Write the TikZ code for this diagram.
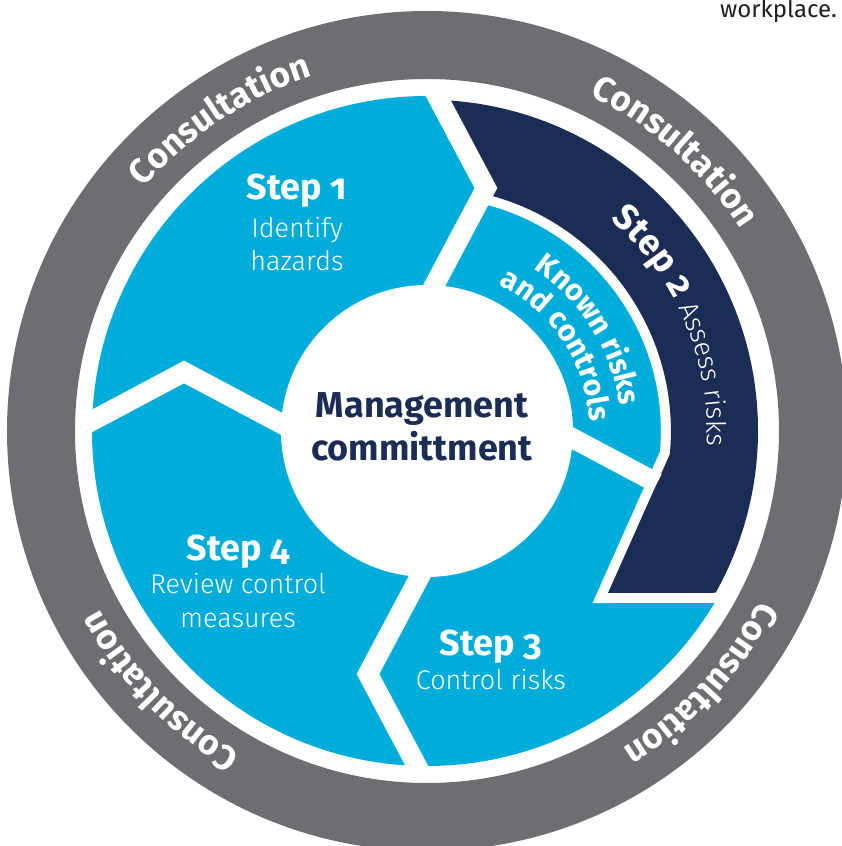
\documentclass[tikz,border=0pt]{standalone}
\usepackage{fontspec}
\setmainfont{Fira Sans}[Numbers=OldStyle]
\newfontfamily\descfont{Fira Sans Light}[Numbers=OldStyle]
\usetikzlibrary{decorations.text}
\definecolor{ringgrey}{RGB}{109,110,113}
\definecolor{stepblue}{RGB}{0,172,217}
\definecolor{navyblue}{RGB}{28,45,85}
\definecolor{inktext}{RGB}{35,31,32}
\tikzset{
  divider/.style={draw=white, line width=20pt, line join=miter},
  steptitle/.style={font=\bfseries\fontsize{36}{36}\selectfont, text=white, anchor=base, inner sep=0pt},
  stepdesc/.style={font=\descfont\fontsize{27}{27}\selectfont, text=white, anchor=base, inner sep=0pt},
  mgmt/.style={font=\bfseries\fontsize{36}{36}\selectfont, text=navyblue, anchor=base, inner sep=0pt},
  consult/.style={decorate, decoration={text along path, text align=center, text color=white,
      text={|\bfseries\fontsize{35}{35}\selectfont|Consultation}}},
}
\begin{document}
\begin{tikzpicture}[x=1pt,y=1pt]
\useasboundingbox (-427,-415) rectangle (414,431);
\fill[white] (-427,-415) rectangle (414,431);
% blue disk
\fill[stepblue] (0,0) circle[radius=335];
% navy band of step 2 with white halo
\path[fill=navyblue, preaction={draw=white, line width=20pt, line join=miter}]
  (59,243) -- (12.3,331) arc[start angle=87.87, end angle=-29.3, radius=331]
  -- (181,-162) -- (242.8,-23.3) arc[start angle=-5.48, end angle=76.35, radius=244] -- cycle;
% chevron dividers
\foreach \ang in {0,90,-90}
  \draw[divider, rotate=\ang] (-108.6,-12.4) -- (-243,59) -- (-363,-4.75);
\draw[divider] (108.6,12.4) -- (230,-52.1);
% centre circle
\fill[white] (0,0) circle[radius=146];
% outer grey ring
\fill[ringgrey, even odd rule] (0,0) circle[radius=420] (0,0) circle[radius=352];
% consultation labels
\path[consult] (163.6:373) arc[start angle=163.6, end angle=83.6, radius=373];
\path[consult] (88.4:373) arc[start angle=88.4, end angle=8.4, radius=373];
\path[consult] (-2.7:373) arc[start angle=-2.7, end angle=-82.7, radius=373];
\path[consult] (-95.8:373) arc[start angle=-95.8, end angle=-175.8, radius=373];
% step 2 texts
\path[decorate, decoration={text along path, text align=center, text color=white,
  text={|\bfseries\fontsize{36}{36}\selectfont|Step 2 |\descfont\mdseries\fontsize{27}{27}\selectfont|Assess risks}}]
  (63:280) arc[start angle=63, end angle=-17, radius=280];
\path[decorate, decoration={text along path, text align=center, text color=white,
  text={|\bfseries\fontsize{30}{30}\selectfont|Known risks}}]
  (72:194) arc[start angle=72, end angle=-8, radius=194];
\path[decorate, decoration={text along path, text align=center, text color=white,
  text={|\bfseries\fontsize{30}{30}\selectfont|and controls}}]
  (73.5:163) arc[start angle=73.5, end angle=-6.5, radius=163];
% step texts
\node[steptitle] (s1t) at (-130,231) {Step 1};
\node[stepdesc] (s1a) at (-130,193) {Identify};
\node[stepdesc] (s1b) at (-130,160) {hazards};
\node[steptitle] (s4t) at (-189,-129) {Step 4};
\node[stepdesc] (s4a) at (-189,-162) {Review control};
\node[stepdesc] (s4b) at (-189,-196) {measures};
\node[steptitle] (s3t) at (64,-224) {Step 3};
\node[stepdesc] (s3a) at (64,-258) {Control risks};
\node[mgmt] (m1) at (-5,14) {Management};
\node[mgmt] (m2) at (-5,-29) {committment};
\node[font=\fontsize{24}{24}\selectfont, text=inktext, anchor=base east, inner sep=0pt] (wp) at (410,413) {workplace.};
\end{tikzpicture}
\end{document}
